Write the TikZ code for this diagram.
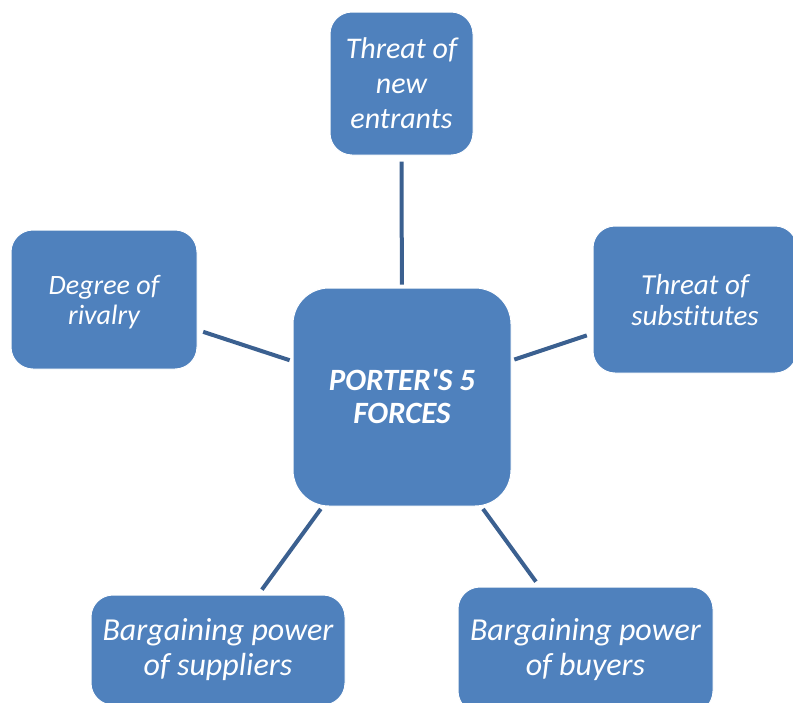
\documentclass[tikz,border=0pt]{standalone}
\usepackage{fontspec}
\setmainfont{Carlito}[Ligatures={TeXOff,CommonOff}]
\definecolor{boxblue}{HTML}{4F81BD}
\definecolor{linkblue}{HTML}{3B6090}
% a centred stack of lines, lowered by the given amount while keeping its size
\newcommand{\lowstack}[2]{\raisebox{-#1}[\height][\depth]{\begin{tabular}{@{}c@{}}#2\end{tabular}}}
\begin{document}
\begin{tikzpicture}[x=1pt,y=-1pt,
  force/.style={rectangle, rounded corners=22pt, fill=boxblue, draw=white,
    line width=1pt, text=white, align=center, inner sep=0pt,
    font=\itshape},
  hub/.style={force, rounded corners=36pt, font=\bfseries\itshape},
  link/.style={draw=linkblue, line width=4pt, shorten <=3pt, shorten >=6pt}]
\clip (0,0) rectangle (793,702);
\fill[white] (0,0) rectangle (793,702);

% central box
\node[hub, minimum width=218pt, minimum height=218pt,
  font=\fontsize{31}{33}\selectfont\bfseries\itshape] (hub) at (402,397)
  {PORTER'S 5\\FORCES};

% the five forces
\node[force, minimum width=143pt, minimum height=143pt,
  font=\fontsize{30}{35}\selectfont\itshape] (entrants) at (401.5,83.5)
  {Threat of\\new\\entrants};
\node[force, minimum width=186pt, minimum height=139pt,
  font=\fontsize{28}{30}\selectfont\itshape] (rivalry) at (104,299.5)
  {\lowstack{4pt}{Degree of\\rivalry}};
\node[force, minimum width=204pt, minimum height=147pt,
  font=\fontsize{29}{31}\selectfont\itshape] (substitutes) at (695,299.5)
  {\lowstack{4pt}{Threat of\\substitutes}};
\node[force, minimum width=254pt, minimum height=110pt,
  font=\fontsize{32}{35}\selectfont\itshape] (suppliers) at (218,650)
  {Bargaining power\\of suppliers};
\node[force, minimum width=255pt, minimum height=126pt,
  font=\fontsize{32}{35}\selectfont\itshape] (buyers) at (585.5,650)
  {Bargaining power\\of buyers};

% connectors from the hub
\draw[link] (hub) -- (entrants);
\draw[link] (hub) -- (rivalry);
\draw[link] (hub) -- (substitutes);
\draw[link] (hub) -- (suppliers);
\draw[link] (hub) -- (buyers);
\end{tikzpicture}
\end{document}
